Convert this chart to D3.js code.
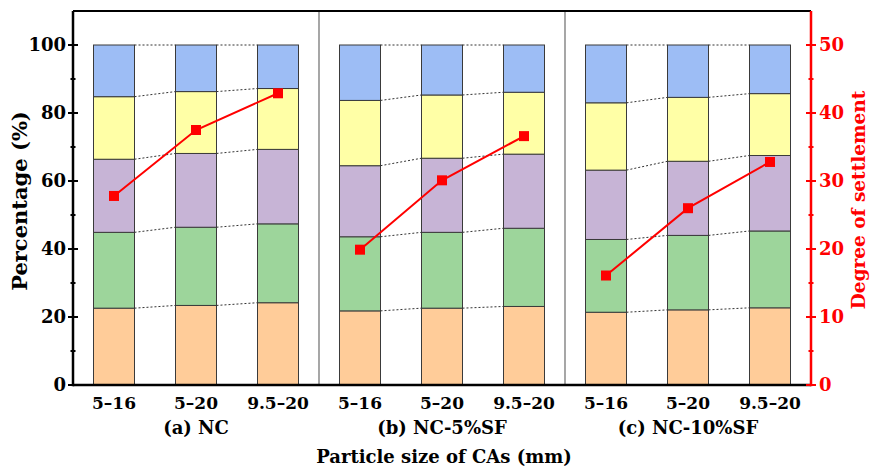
<!DOCTYPE html>
<html><head><meta charset="utf-8">
<script src="https://cdn.jsdelivr.net/npm/d3@7"></script>
<style>body{margin:0;background:#fff}svg{display:block}</style>
</head><body><svg id="c" width="875" height="470" font-family="'DejaVu Serif', serif" font-weight="bold"></svg>
<script>
const groups = ["(a) NC", "(b) NC-5%SF", "(c) NC-10%SF"];
const categories = ["5–16", "5–20", "9.5–20"];
// segment percentages, bottom to top, for the 9 bars (a1,a2,a3,b1,...)
const layer1 = [22.6, 23.4, 24.2, 21.8, 22.6, 23.1, 21.4, 22.1, 22.7];
const layer2 = [22.3, 23.0, 23.2, 21.8, 22.3, 23.0, 21.4, 21.9, 22.6];
const layer3 = [21.5, 21.7, 21.9, 20.9, 21.8, 21.8, 20.4, 21.8, 22.2];
const layer4 = [18.4, 18.2, 17.9, 19.2, 18.6, 18.2, 19.8, 18.8, 18.2];
const layer5 = [15.2, 13.7, 12.8, 16.3, 14.7, 13.9, 17.0, 15.4, 14.3];
const settlement = [27.8, 37.5, 42.9, 19.9, 30.1, 36.6, 16.1, 26.0, 32.8];
const leftTicks = [0, 20, 40, 60, 80, 100];
const rightTicks = [0, 10, 20, 30, 40, 50];

const layers = [layer1, layer2, layer3, layer4, layer5];
const colors = ["#FFCC99", "#9DD59B", "#C7B4D6", "#FFFFA6", "#9DBDF5"];
const keys = [];
groups.forEach((g, gi) => categories.forEach((c, ci) => keys.push(gi + "|" + c)));
const rows = keys.map((k, i) => { const o = {key: k}; layers.forEach((l, j) => o["s" + j] = l[i]); return o; });
const stack = d3.stack().keys(layers.map((l, j) => "s" + j))(rows);

const L = 73, R = 811, T = 11, B = 385;
const svg = d3.select("#c");
const x = d3.scaleBand().domain(keys).range([L, R]).paddingInner(0.5).paddingOuter(0.25);
const y = d3.scaleLinear().domain([0, 110]).range([B, T]);
const y2 = d3.scaleLinear().domain([0, 55]).range([B, T]);

// panel dividers
[3, 6].forEach(i => {
  const xx = L + x.step() * i;
  svg.append("line").attr("x1", xx).attr("x2", xx).attr("y1", T).attr("y2", B)
    .attr("stroke", "#777").attr("stroke-width", 1.3);
});

// bars
stack.forEach((s, j) => {
  svg.append("g").selectAll("rect").data(s).join("rect")
    .attr("x", d => x(d.data.key)).attr("width", x.bandwidth())
    .attr("y", d => y(d[1])).attr("height", d => y(d[0]) - y(d[1]))
    .attr("fill", colors[j]).attr("stroke", "#3a3a3a").attr("stroke-width", 1);
});

// dotted connectors within each panel
stack.forEach(s => {
  s.forEach((d, i) => {
    if (i % 3 === 2) return;
    const n = s[i + 1];
    svg.append("line")
      .attr("x1", x(d.data.key) + x.bandwidth()).attr("y1", y(d[1]))
      .attr("x2", x(n.data.key)).attr("y2", y(n[1]))
      .attr("stroke", "#333").attr("stroke-width", 1).attr("stroke-dasharray", "2,2");
  });
});

// settlement lines + markers
groups.forEach((g, gi) => {
  const pts = [0, 1, 2].map(ci => ({k: keys[gi * 3 + ci], v: settlement[gi * 3 + ci]}));
  svg.append("path").datum(pts)
    .attr("d", d3.line().x(d => x(d.k) + x.bandwidth() / 2).y(d => y2(d.v)))
    .attr("fill", "none").attr("stroke", "#FF0000").attr("stroke-width", 2);
  svg.append("g").selectAll("rect").data(pts).join("rect")
    .attr("x", d => x(d.k) + x.bandwidth() / 2 - 5).attr("y", d => y2(d.v) - 5)
    .attr("width", 10).attr("height", 10).attr("fill", "#FF0000");
});

// frame lines
svg.append("line").attr("x1", L).attr("x2", R).attr("y1", T).attr("y2", T).attr("stroke", "#000").attr("stroke-width", 2);
svg.append("line").attr("x1", L).attr("x2", R).attr("y1", B).attr("y2", B).attr("stroke", "#000").attr("stroke-width", 2.5);

// left axis
const gl = svg.append("g");
gl.append("line").attr("x1", L).attr("x2", L).attr("y1", T).attr("y2", B + 1.2).attr("stroke", "#000").attr("stroke-width", 2.5);
d3.range(0, 110, 10).forEach(v => {
  const major = v % 20 === 0;
  gl.append("line").attr("x1", L - (major ? 5 : 2.5)).attr("x2", L + (major ? 5 : 2.5))
    .attr("y1", y(v)).attr("y2", y(v)).attr("stroke", "#000").attr("stroke-width", 2);
});
gl.selectAll("text").data(leftTicks).join("text")
  .attr("x", L - 7).attr("y", d => y(d)).attr("dy", "0.35em").attr("text-anchor", "end")
  .attr("font-size", 18).text(d => d);
svg.append("text").attr("transform", `translate(27,${(T + B) / 2 + 3}) rotate(-90)`)
  .attr("text-anchor", "middle").attr("font-size", 21).text("Percentage (%)");

// right axis
const gr = svg.append("g");
gr.append("line").attr("x1", R).attr("x2", R).attr("y1", T).attr("y2", B + 1.2).attr("stroke", "#FF0000").attr("stroke-width", 2.5);
d3.range(0, 55, 5).forEach(v => {
  const major = v % 10 === 0;
  gr.append("line").attr("x1", R - (major ? 5 : 2.5)).attr("x2", R + (major ? 5 : 2.5))
    .attr("y1", y2(v)).attr("y2", y2(v)).attr("stroke", "#FF0000").attr("stroke-width", 2);
});
gr.selectAll("text").data(rightTicks).join("text")
  .attr("x", R + 8).attr("y", d => y2(d)).attr("dy", "0.35em").attr("text-anchor", "start")
  .attr("font-size", 18).attr("fill", "#FF0000").text(d => d);
svg.append("text").attr("transform", `translate(865,${(T + B) / 2 + 2}) rotate(-90)`)
  .attr("text-anchor", "middle").attr("font-size", 18.5).attr("fill", "#FF0000").text("Degree of settlement");

// x labels
svg.append("g").selectAll("text").data(keys).join("text")
  .attr("x", d => x(d) + x.bandwidth() / 2).attr("y", 409).attr("text-anchor", "middle")
  .attr("font-size", 17).text(d => d.split("|")[1]);
svg.append("g").selectAll("text").data(groups).join("text")
  .attr("x", (d, i) => x(keys[i * 3 + 1]) + x.bandwidth() / 2).attr("y", 434).attr("text-anchor", "middle")
  .attr("font-size", 18).text(d => d);
svg.append("text").attr("x", 444).attr("y", 463).attr("text-anchor", "middle")
  .attr("font-size", 18).text("Particle size of CAs (mm)");
</script></body></html>
